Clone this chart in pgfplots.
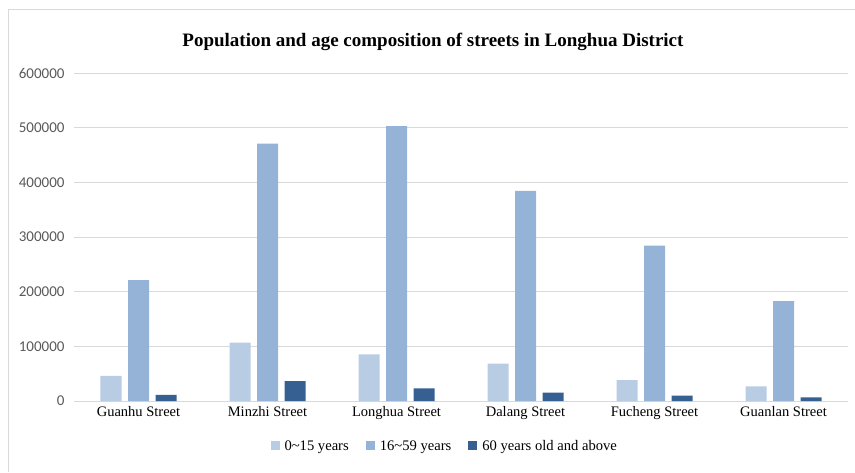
\documentclass[border=0pt]{standalone}
\usepackage{fontspec}
\setmainfont{Liberation Serif}
\newfontfamily\tickfont{Carlito}
\usepackage{pgfplots}
\pgfplotsset{compat=1.18}
\definecolor{c1}{HTML}{B8CCE4}
\definecolor{c2}{HTML}{95B3D7}
\definecolor{c3}{HTML}{366092}
\definecolor{gridc}{HTML}{D9D9D9}
\definecolor{tickc}{HTML}{595959}
\begin{document}
\begin{tikzpicture}[x=1pt,y=1pt]
\path[use as bounding box] (0,0) rectangle (855,472);
\draw[gridc, line width=1pt] (8,0) -- (8,462) -- (855,462);
\node[font=\bfseries\fontsize{19}{22}\selectfont] at (433,430) {Population and age composition of streets in Longhua District};
\begin{axis}[
  at={(74pt,71pt)}, anchor=south west,
  scale only axis, width=774pt, height=328pt,
  xmin=-0.5, xmax=5.5, ymin=0, ymax=600000,
  ytick={0,100000,200000,300000,400000,500000,600000},
  scaled y ticks=false,
  /pgf/number format/fixed,
  /pgf/number format/1000 sep={},
  /pgf/number format/assume math mode=true,
  xtick={0,1,2,3,4,5},
  xticklabels={Guanhu Street, Minzhi Street, Longhua Street, Dalang Street, Fucheng Street, Guanlan Street},
  axis x line*=bottom, axis y line*=left,
  y axis line style={draw=none},
  x axis line style={gridc, line width=1pt},
  major tick length=0pt,
  ymajorgrids, grid style={gridc, line width=0.9pt},
  yticklabel style={font=\tickfont\fontsize{15}{17}\selectfont, text=tickc, xshift=-6pt},
  xticklabel style={font=\fontsize{14.5}{17}\selectfont, yshift=-2pt},
  ybar=6.5pt, bar width=21pt,
  legend columns=3,
  legend style={at={(0.479,-0.137)}, anchor=center, draw=none, font=\fontsize{14.6}{17}\selectfont,
    /tikz/every even column/.append style={column sep=15pt},
    /tikz/every odd column/.append style={column sep=3pt}},
  legend image code/.code={\fill[#1] (0pt,-4.5pt) rectangle (9pt,4.5pt);},
]
\addplot[fill=c1, draw=none] coordinates {(0,46000) (1,106600) (2,85400) (3,68200) (4,38400) (5,26900)};
\addplot[fill=c2, draw=none] coordinates {(0,221000) (1,471000) (2,503000) (3,384500) (4,284000) (5,182800)};
\addplot[fill=c3, draw=none] coordinates {(0,11000) (1,36500) (2,23200) (3,15200) (4,9700) (5,6800)};
\legend{0\textasciitilde15 years, 16\textasciitilde59 years, 60 years old and above}
\end{axis}
\end{tikzpicture}
\end{document}
